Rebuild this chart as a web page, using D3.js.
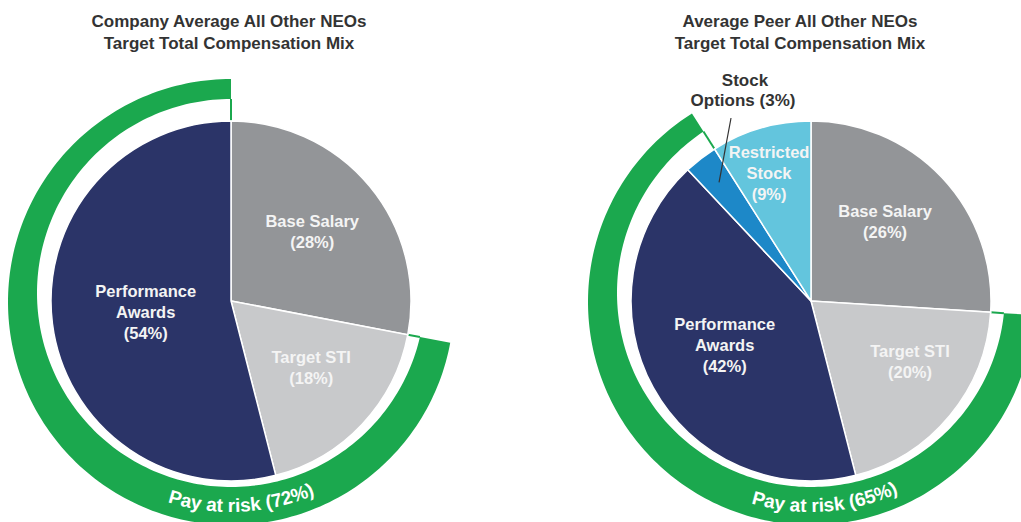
<!DOCTYPE html>
<html><head><meta charset="utf-8">
<script src="https://cdn.jsdelivr.net/npm/d3@7"></script>
<style>body{margin:0;background:#fff}svg{display:block}text{font-family:"Liberation Sans",Arial,sans-serif;font-weight:bold}</style>
</head><body>
<svg id="c" width="1021" height="522"></svg>
<script>
// ---- data ----
const leftTitle = ["Company Average All Other NEOs", "Target Total Compensation Mix"];
const rightTitle = ["Average Peer All Other NEOs", "Target Total Compensation Mix"];
const leftCategories = ["Base Salary", "Target STI", "Performance Awards"];
const leftValues = [28, 18, 54];
const leftAtRisk = ["Target STI", "Performance Awards"];
const leftRiskLabel = "Pay at risk (72%)";
const rightCategories = ["Base Salary", "Target STI", "Performance Awards", "Stock Options", "Restricted Stock"];
const rightValues = [26, 20, 42, 3, 9];
const rightAtRisk = ["Target STI", "Performance Awards", "Stock Options"];
const rightRiskLabel = "Pay at risk (65%)";

// ---- style ----
const colors = {"Base Salary":"#939598","Target STI":"#c8c9cb","Performance Awards":"#2b3468","Stock Options":"#1d88c8","Restricted Stock":"#63c5dd"};
const labelLines = {"Base Salary":["Base Salary"],"Target STI":["Target STI"],"Performance Awards":["Performance","Awards"],"Restricted Stock":["Restricted","Stock"]};
const leftLabelPos = {"Base Salary":[107,49.4],"Target STI":[104,129.5],"Performance Awards":[86,262.6]};
const rightLabelPos = {"Base Salary":[109,42.8],"Target STI":[116,121.4],"Performance Awards":[97,242.9],"Restricted Stock":[135,341.9]};
const green = "#1ba84e";
const R = 180;

const svg = d3.select("#c");

function drawChart(cfg){
  const g = svg.append("g").attr("transform",`translate(${cfg.cx},${cfg.cy})`);
  const data = cfg.categories.map((c,i)=>({cat:c,value:cfg.values[i]}));
  const pie = d3.pie().sort(null).value(d=>d.value);
  const arcs = pie(data);
  const arc = d3.arc().innerRadius(0).outerRadius(R);

  // ring geometry (inner/outer boundary circles, possibly offset vertically)
  const ringR = (d, r) => th => { const c = Math.cos(th); return -d*c + Math.sqrt(d*d*c*c - d*d + r*r); };
  const inner = ringR(cfg.innerOff, cfg.innerR), outer = ringR(cfg.outerOff, cfg.outerR);
  const risk = arcs.filter(a=>cfg.atRisk.includes(a.data.cat));
  const a0 = d3.min(risk,a=>a.startAngle), a1 = d3.max(risk,a=>a.endAngle);
  const steps = d3.range(0,1.0001,1/200).map(t=>a0+(a1-a0)*t);
  const area = d3.areaRadial().angle(d=>d).innerRadius(d=>inner(d)).outerRadius(d=>outer(d));
  g.append("path").attr("d",area(steps)).attr("fill",green);
  [a0,a1].forEach(a=>{
    g.append("line")
      .attr("x1",R*Math.sin(a)).attr("y1",-R*Math.cos(a))
      .attr("x2",inner(a)*Math.sin(a)).attr("y2",-inner(a)*Math.cos(a))
      .attr("stroke",green).attr("stroke-width",2);
  });

  // pie
  g.selectAll("path.slice").data(arcs).join("path").attr("class","slice")
    .attr("d",arc).attr("fill",d=>colors[d.data.cat]).attr("stroke","#fff").attr("stroke-width",1.5);

  // labels
  arcs.forEach(a=>{
    const pos = cfg.labelPos[a.data.cat];
    if(!pos) return;
    const lines = labelLines[a.data.cat].concat([`(${a.data.value}%)`]);
    const m = pos[1]*Math.PI/180, r = pos[0];
    const x = r*Math.sin(m), y = -r*Math.cos(m);
    const t = g.append("text").attr("text-anchor","middle").attr("fill","#f4f4f4").attr("font-size",16.5);
    lines.forEach((l,i)=>t.append("tspan").attr("x",x).attr("y",y+(i-(lines.length-1)/2)*21+6).text(l));
  });

  // pay at risk text on arc
  const tr = cfg.textR, tc = cfg.textAngle*Math.PI/180, span = Math.PI/2.5;
  const p = d3.path();
  p.arc(0,0,tr,tc+span-Math.PI/2,tc-span-Math.PI/2,true);
  const id = "tp"+cfg.id;
  g.append("path").attr("id",id).attr("d",p.toString()).attr("fill","none");
  g.append("text").attr("fill","#fff").attr("font-size",19)
    .append("textPath").attr("href","#"+id).attr("startOffset","50%").attr("text-anchor","middle").text(cfg.riskLabel);

  // title
  const tt = svg.append("text").attr("text-anchor","middle").attr("fill","#333").attr("font-size",17);
  cfg.title.forEach((l,i)=>tt.append("tspan").attr("x",cfg.titleX).attr("y",27+i*22).text(l));
  return {g, arcs};
}

drawChart({id:"L",cx:231,cy:301,categories:leftCategories,values:leftValues,atRisk:leftAtRisk,riskLabel:leftRiskLabel,
  innerOff:-8,innerR:194,outerOff:1,outerR:223,textR:211,textAngle:177,title:leftTitle,titleX:229,labelPos:leftLabelPos});
const rc = drawChart({id:"R",cx:811,cy:301,categories:rightCategories,values:rightValues,atRisk:rightAtRisk,riskLabel:rightRiskLabel,
  innerOff:-8,innerR:194,outerOff:1,outerR:223,textR:211,textAngle:176,title:rightTitle,titleX:800,labelPos:rightLabelPos});

// stock options callout
const so = rc.arcs.find(a=>a.data.cat==="Stock Options");
const sm = (so.startAngle+so.endAngle)/2;
const tip = [150*Math.sin(sm), -150*Math.cos(sm)];
rc.g.append("line").attr("x1",tip[0]).attr("y1",tip[1]).attr("x2",-80).attr("y2",-183).attr("stroke","#333").attr("stroke-width",1.2);
const st = rc.g.append("text").attr("text-anchor","middle").attr("fill","#333").attr("font-size",17);
st.append("tspan").attr("x",-66).attr("y",-215).text("Stock");
st.append("tspan").attr("x",-68).attr("y",-195).text(`Options (${so.data.value}%)`);
</script>
</body></html>
